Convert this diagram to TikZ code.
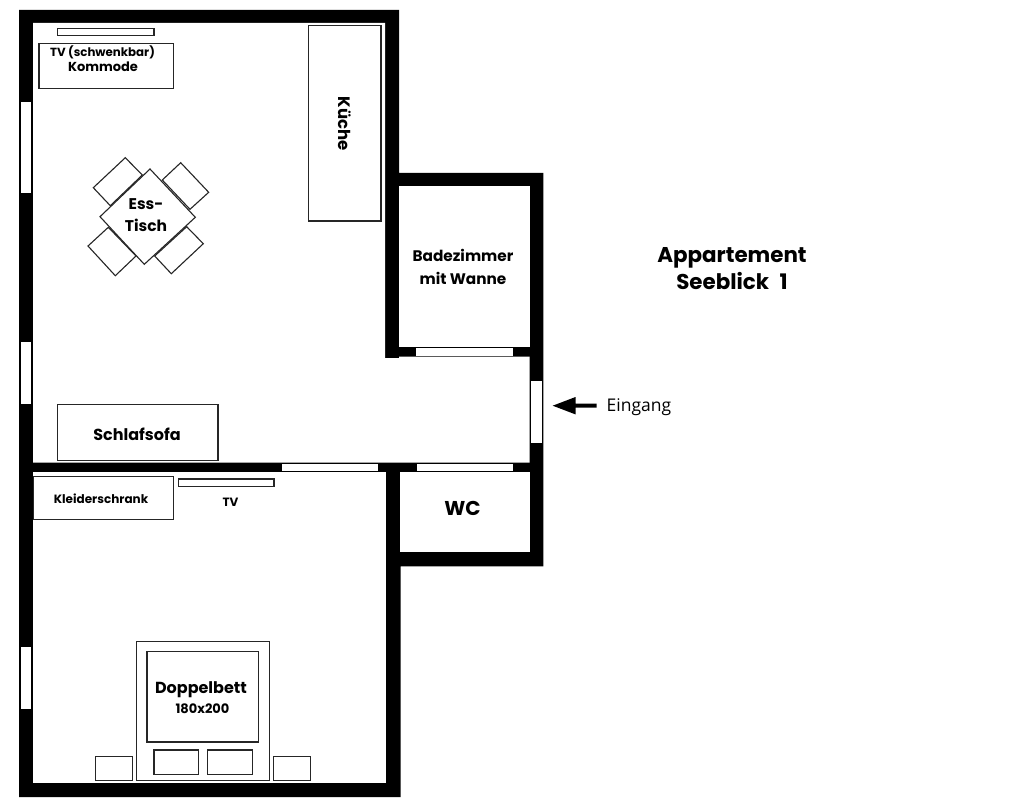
\documentclass[tikz,border=0pt]{standalone}
\usepackage{fontspec}
\setmainfont{Poppins}
\newfontfamily\plainfont{Open Sans}
\newcommand{\fs}[2]{\fontsize{#1}{#2}\selectfont}
\tikzset{
  x=1pt,y=-1pt,
  wall/.style={fill=black,draw=none},
  room/.style={fill=white,draw=none},
  opening/.style={fill=white,draw=none},
  item/.style={draw=black!85,line width=1.1pt,fill=white},
  lbl/.style={font=\bfseries,inner sep=0pt,align=center,text=black},
}
\begin{document}
\begin{tikzpicture}
\useasboundingbox (0,0) rectangle (1024,805);
% walls and rooms
\fill[wall] (19,10)--(399,10)--(399,173)--(543.3,173)--(543.3,566.3)--(400.5,566.3)--(400.5,797)--(19,797)--cycle;
\fill[room] (33,23)--(385,23)--(385,358)--(399,358)--(399,356.7)--(529.7,356.7)--(529.7,462.7)--(33,462.7)--cycle;
\fill[room] (399,186.3)--(529.7,186.3)--(529.7,347)--(399,347)--cycle;
\fill[room] (400,472.3)--(529.7,472.3)--(529.7,552.3)--(400,552.3)--cycle;
\fill[room] (33,472.3)--(386.4,472.3)--(386.4,783.3)--(33,783.3)--cycle;
% windows and doors
\fill[opening] (20.7,101.7) rectangle (31,193);
\fill[opening] (20.7,342) rectangle (31,404);
\fill[opening] (20.7,646.7) rectangle (31,709);
\fill[opening] (416.3,348) rectangle (513,355.7);
\fill[opening] (531.3,380.7) rectangle (542,443);
\fill[opening] (282,464) rectangle (378,471);
\fill[opening] (417.3,464) rectangle (513.3,471);
% furniture
\draw[item] (57.3,28.3) rectangle (154,35.7);
\draw[item] (39,43.3) rectangle (173.3,88.7);
\draw[item] (308.3,25.3) rectangle (381,221);
\draw[item] (125.3,157.7)--(93.3,187.7)--(110.3,205.7)--(142.3,175)--cycle;
\draw[item] (180.7,162.7)--(208.7,192.3)--(190,209.3)--(162.3,180)--cycle;
\draw[item] (88,246)--(115.3,275.7)--(136,256)--(108.3,227.3)--cycle;
\draw[item] (203.3,243.7)--(171.3,273.7)--(154.7,256)--(186.7,226.7)--cycle;
\draw[item] (150,169)--(195.3,217.3)--(144.3,264.3)--(100,216.7)--cycle;
\draw[item] (57.3,404.7) rectangle (218,460.7);
\draw[item] (33.7,476.3) rectangle (173.3,519.7);
\draw[item] (178.3,479) rectangle (274,486.7);
\draw[item] (136.7,641.7) rectangle (269.3,780.7);
\draw[item] (147,651.3) rectangle (258.7,742);
\draw[item] (154,750) rectangle (198.7,774.7);
\draw[item] (207.3,750) rectangle (252.3,774.7);
\draw[item] (95.3,756.3) rectangle (132.3,780.7);
\draw[item] (273.7,756.3) rectangle (310.7,780.7);
% labels
\node[lbl,font=\bfseries\fs{11.8}{15}] (tvs) at (102.5,52) {TV (schwenkbar)};
\node[lbl,font=\bfseries\fs{13}{15}] (komm) at (103,67) {Kommode};
\node[lbl,font=\bfseries\fs{16.5}{15},rotate=-90] (kueche) at (345,123.5) {Küche};
\node[lbl,font=\bfseries\fs{15.5}{22}] (ess) at (146,215.5) {Ess-\\Tisch};
\node[lbl,font=\bfseries\fs{15.3}{23}] (bad) at (463,267) {Badezimmer\\mit Wanne};
\node[lbl,font=\bfseries\fs{16}{15}] (sofa) at (137,434) {Schlafsofa};
\node[lbl,font=\bfseries\fs{12}{15}] (schrank) at (101,499) {Kleiderschrank};
\node[lbl,font=\bfseries\fs{12}{15}] (tv) at (230.5,502.5) {TV};
\node[lbl,font=\bfseries\fs{20}{24}] (wc) at (462.5,508) {WC};
\node[lbl,font=\bfseries\fs{16}{18}] (bett) at (201,689.5) {Doppelbett};
\node[lbl,font=\bfseries\fs{13}{14}] (mass) at (202.5,709) {180x200};
\node[lbl,font=\bfseries\fs{21.4}{27}] (titel) at (732,268.7) {Appartement\\Seeblick\hspace{6pt} 1};
\node[inner sep=0pt,font=\plainfont\fs{17.5}{20}] (eingang) at (639,407.5) {Eingang};
\coordinate (tip) at (552.7,405.7);
\coordinate (tail) at (596.7,405.7);
\fill[black] (tip)--(575.5,397)--(575.5,403.7)--(596.7,403.7)--(596.7,407.7)--(575.5,407.7)--(575.5,414.4)--cycle;
\end{tikzpicture}
\end{document}
